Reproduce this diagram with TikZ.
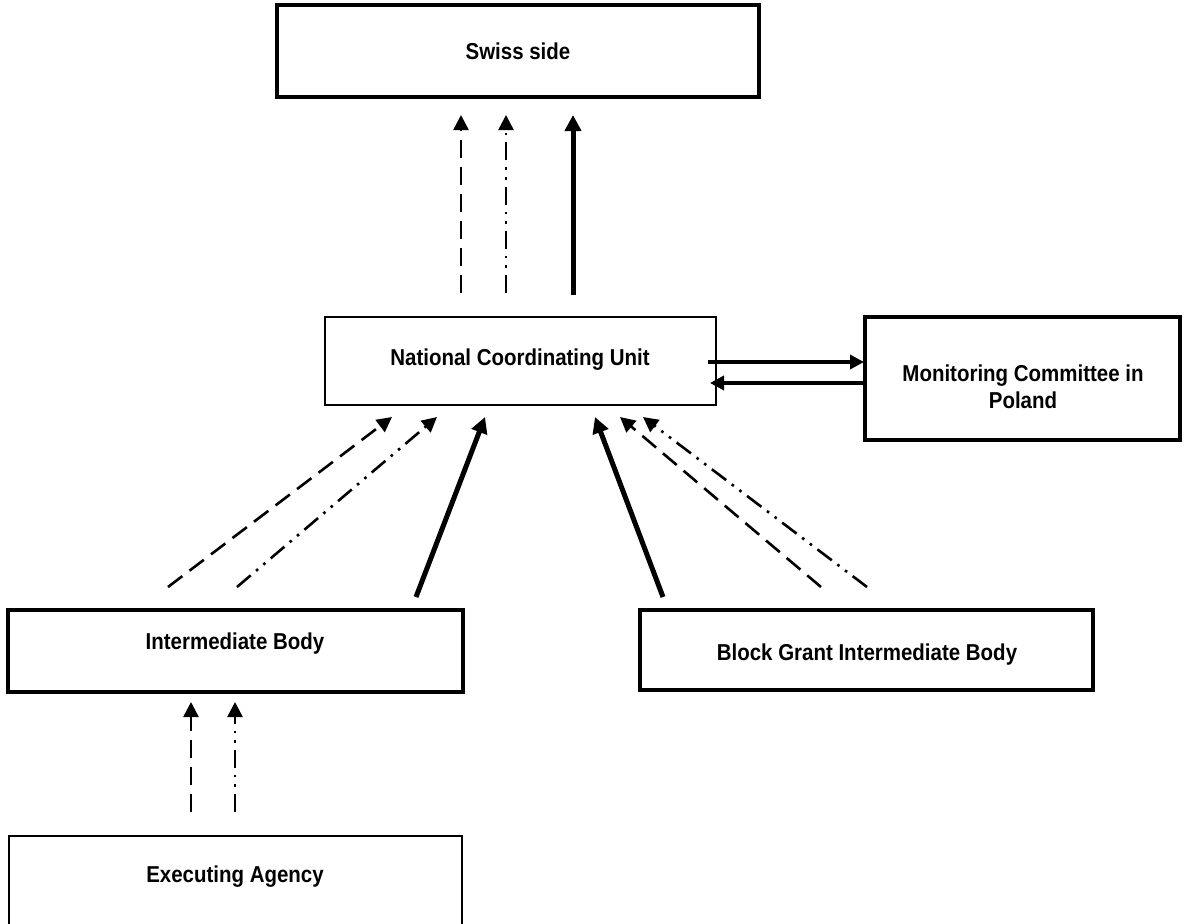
\documentclass[tikz,border=0pt]{standalone}
\usepackage{fontspec}
\setmainfont{Liberation Sans}[FakeStretch=0.89]
\usetikzlibrary{arrows.meta}
\begin{document}
\begin{tikzpicture}[x=1pt,y=-1pt,
  thickbox/.style={draw, line width=4.5pt, inner sep=0pt},
  thinbox/.style={draw, line width=1.4pt, inner sep=0pt},
  lbl/.style={font=\bfseries\fontsize{23}{27}\selectfont, text height=16.5pt, text depth=0pt, inner sep=0pt},
  tipA/.style={-{Triangle[width=15pt,length=15pt]}},
  dsh/.style={tipA, line width=2.6pt, dash pattern=on 18pt off 9pt},
  ddot/.style={tipA, line width=2.6pt, dash pattern=on 18pt off 7pt on 2.6pt off 7pt on 2.6pt off 7pt},
  sol/.style={-{Triangle[width=16pt,length=16pt]}, line width=5pt},
  med/.style={-{Triangle[width=14pt,length=14pt]}, line width=3.5pt}]
\useasboundingbox (0,0) rectangle (1184,924);
\fill[white] (0,0) rectangle (1184,924);

% boxes
\node[thickbox, minimum width=482pt, minimum height=92pt] (swiss) at (518,51) {};
\node[thinbox, minimum width=391pt, minimum height=88pt] (ncu) at (520.5,361) {};
\node[thickbox, minimum width=315pt, minimum height=123pt] (mc) at (1022.5,378.5) {};
\node[thickbox, minimum width=455pt, minimum height=82pt] (ib) at (235.5,651) {};
\node[thickbox, minimum width=453pt, minimum height=80pt] (bgib) at (866.5,650) {};
\node[thinbox, minimum width=453pt, minimum height=124pt] (ea) at (235.5,898) {};

% labels
\node[lbl] (swissT) at (518,51) {Swiss side};
\node[lbl] (ncuT) at (520,357) {National Coordinating Unit};
\node[lbl] (mcT1) at (1023,373) {Monitoring Committee in};
\node[lbl] (mcT2) at (1023,400) {Poland};
\node[lbl] (ibT) at (235,641) {Intermediate Body};
\node[lbl] (bgibT) at (867,652) {Block Grant Intermediate Body};
\node[lbl] (eaT) at (235,874) {Executing Agency};

% arrow end points
\coordinate (a1s) at (461,293); \coordinate (a1e) at (461,115);
\coordinate (a2s) at (506,293); \coordinate (a2e) at (506,115);
\coordinate (a3s) at (573,295); \coordinate (a3e) at (573,115);
\coordinate (a4s) at (708,362); \coordinate (a4e) at (864,362);
\coordinate (a5s) at (864,383); \coordinate (a5e) at (710,383);
\coordinate (a6s) at (168,587); \coordinate (a6e) at (392,417);
\coordinate (a7s) at (237,587); \coordinate (a7e) at (437,417);
\coordinate (a8s) at (416,597); \coordinate (a8e) at (485,417);
\coordinate (a9s) at (663,597); \coordinate (a9e) at (595,417);
\coordinate (a10s) at (821,587); \coordinate (a10e) at (620,417);
\coordinate (a11s) at (867,587); \coordinate (a11e) at (643,417);
\coordinate (a12s) at (191,812); \coordinate (a12e) at (191,702);
\coordinate (a13s) at (235,812); \coordinate (a13e) at (235,702);

% NCU -> Swiss side
\draw[dsh] (a1s) -- (a1e);
\draw[ddot] (a2s) -- (a2e);
\draw[sol] (a3s) -- (a3e);
% NCU <-> Monitoring Committee
\draw[med] (a4s) -- (a4e);
\draw[med] (a5s) -- (a5e);
% Intermediate Body -> NCU
\draw[dsh] (a6s) -- (a6e);
\draw[ddot] (a7s) -- (a7e);
\draw[sol] (a8s) -- (a8e);
% Block Grant IB -> NCU
\draw[sol] (a9s) -- (a9e);
\draw[dsh] (a10s) -- (a10e);
\draw[ddot] (a11s) -- (a11e);
% Executing Agency -> IB
\draw[dsh] (a12s) -- (a12e);
\draw[ddot] (a13s) -- (a13e);
\end{tikzpicture}
\end{document}
